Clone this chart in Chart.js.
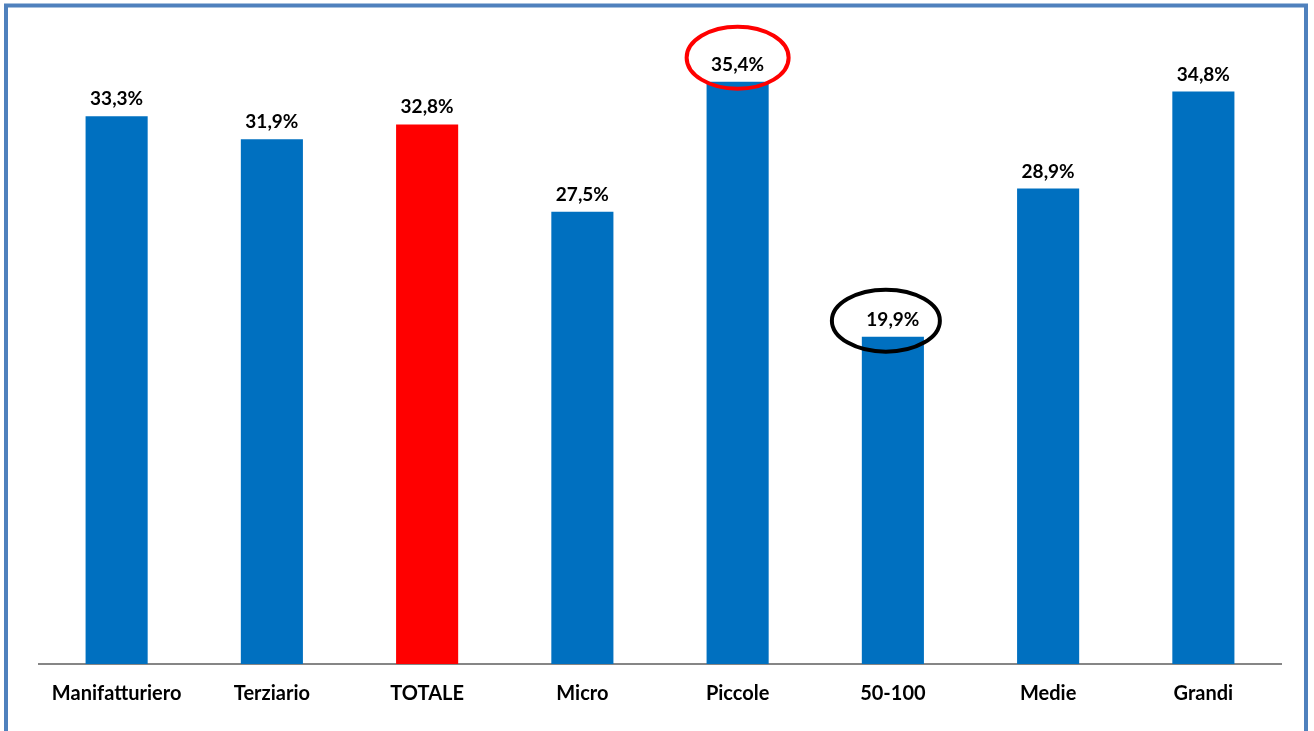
<!DOCTYPE html>
<html>
<head>
<meta charset="utf-8">
<script src="https://cdn.jsdelivr.net/npm/chart.js@4"></script>
<style>
  html, body { margin: 0; padding: 0; background: #fff; }
  canvas { display: block; }
</style>
</head>
<body>
<canvas id="chart" width="1314" height="731"></canvas>
<script>
let categories = ["Manifatturiero", "Terziario", "TOTALE", "Micro", "Piccole", "50-100", "Medie", "Grandi"],
    values = [33.3, 31.9, 32.8, 27.5, 35.4, 19.9, 28.9, 34.8],
    barColors = ["#0070C0", "#0070C0", "#FF0000", "#0070C0", "#0070C0", "#0070C0", "#0070C0", "#0070C0"],
    yTicks = [0, 40]

// circled labels: bar index, colour, offsets from the bar top
let circles = [
    {index: 4, color: "#FF0000", dx: 0, dy: -24, rx: 51, ry: 31},
    {index: 5, color: "#000000", dx: -7, dy: -16, rx: 54, ry: 31}
]

let fmt = v => v.toFixed(1).replace(".", ",") + "%"

let frame = {
    id: "frame",
    beforeDraw(chart) {
        let ctx = chart.ctx
        ctx.save()
        ctx.fillStyle = "#ffffff"
        ctx.fillRect(0, 0, chart.width, chart.height)
        ctx.strokeStyle = "#4F81BD"
        ctx.lineWidth = 4
        ctx.strokeRect(6, 5.5, 1300, 760)
        ctx.restore()
    }
}

let valueLabels = {
    id: "valueLabels",
    afterDatasetsDraw(chart) {
        let ctx = chart.ctx,
            bars = chart.getDatasetMeta(0).data
        ctx.save()
        ctx.font = "bold 19px Lato"
        ctx.fillStyle = "#000000"
        ctx.textAlign = "center"
        ctx.textBaseline = "alphabetic"
        bars.forEach((bar, i) => {
            ctx.fillText(fmt(values[i]), bar.x, bar.y - 11)
        })
        ctx.lineWidth = 4
        circles.forEach(c => {
            let bar = bars[c.index]
            ctx.strokeStyle = c.color
            ctx.beginPath()
            ctx.ellipse(bar.x + c.dx, bar.y + c.dy, c.rx, c.ry, 0, 0, Math.PI * 2)
            ctx.stroke()
        })
        ctx.restore()
    }
}

new Chart(document.getElementById("chart"), {
    type: "bar",
    plugins: [frame, valueLabels],
    data: {
        labels: categories,
        datasets: [{
            data: values,
            backgroundColor: barColors,
            barPercentage: 0.4,
            categoryPercentage: 1
        }]
    },
    options: {
        responsive: false,
        animation: false,
        layout: {padding: {left: 39, right: 33, top: 6, bottom: 0}},
        plugins: {legend: {display: false}, tooltip: {enabled: false}},
        scales: {
            x: {
                grid: {display: false},
                border: {display: true, color: "#868686", width: 2},
                ticks: {
                    color: "#000000",
                    font: {family: "Lato", size: 20, weight: "bold"},
                    padding: 10,
                    maxRotation: 0
                },
                afterFit(scale) { scale.height = 67 }
            },
            y: {
                display: false,
                min: yTicks[0],
                max: yTicks[1]
            }
        }
    }
})
</script>
</body>
</html>
